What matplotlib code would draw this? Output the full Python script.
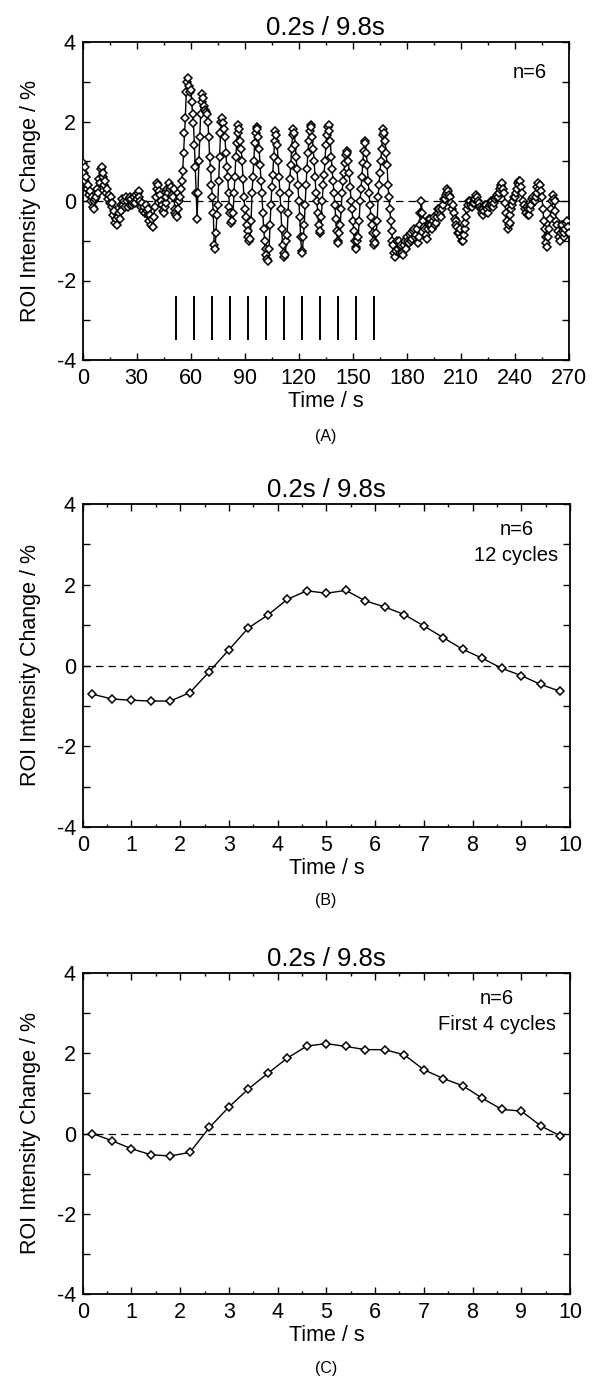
import numpy as np
import matplotlib
matplotlib.use("Agg")
import matplotlib.pyplot as plt
from matplotlib.ticker import MultipleLocator

plt.rcParams['font.family'] = ['Liberation Sans', 'DejaVu Sans']
plt.rcParams['axes.unicode_minus'] = False

# ---------------- Panel A data (time course, %) ----------------
pre_step = 0.5
pre_start = 0.0
pre_values = [
    0.95, 0.7, 0.85, 0.5, 0.6, 0.3, 0.4, 0.15, 0.25, 0.0, 0.1, -0.15, 0.0, -0.2, 0.05, 0.1, 0.3, 0.2, 0.55, 0.45,
    0.8, 0.85, 0.6, 0.7, 0.4, 0.5, 0.2, 0.3, 0.05, 0.15, -0.05, 0.1, -0.15, -0.05, -0.35, -0.25, -0.55, -0.45, -0.6, -0.4,
    -0.3, -0.45, -0.1, -0.25, 0.05, -0.1, 0.0, -0.15, 0.1, 0.0, -0.15, 0.05, -0.1, 0.1, 0.05, -0.1, -0.05, 0.1, -0.05, 0.15,
    0.05, 0.2, 0.25, 0.1, 0.0, -0.15, -0.05, -0.25, -0.15, -0.3, -0.1, -0.25, -0.35, -0.2, -0.5, -0.35, -0.6, -0.45, -0.65, -0.4,
    -0.15, 0.1, 0.3, 0.45, 0.4, 0.25, 0.15, 0.0, -0.1, -0.25, -0.3, -0.15, -0.05, 0.1, 0.3, 0.2, 0.45, 0.3, 0.35, 0.15,
    0.1, 0.3, -0.2, -0.3,
]

stim_step = 0.5
stim_start = 52.0
stim_values = [
    -0.35, -0.4, -0.2, 0.0, 0.1, 0.3, 0.5, 0.75, 1.2, 1.7, 2.1, 2.75, 3.0, 3.1, 2.9, 2.75, 2.8, 2.5, 2.2, 1.95,
    1.4, 0.85, 0.2, -0.45, 0.2, 1.0, 1.6, 2.2, 2.5, 2.7, 2.6, 2.4, 2.3, 2.25, 2.2, 2.0, 1.6, 1.1, 0.8, 0.4,
    0.1, -0.3, -1.1, -1.2, -0.8, -0.35, -0.1, 0.5, 1.1, 1.7, 2.0, 2.1, 1.95, 1.8, 1.6, 1.2, 0.85, 0.6, 0.2, -0.15,
    -0.3, -0.55, -0.5, -0.3, 0.2, 0.6, 1.1, 1.45, 1.7, 1.9, 1.8, 1.5, 1.3, 1.0, 0.55, 0.1, -0.2, -0.4, -0.6, -0.75,
    -0.9, -1.0, -0.95, -0.5, 0.2, 0.6, 1.0, 1.45, 1.7, 1.85, 1.8, 1.6, 1.3, 0.9, 0.5, 0.2, -0.3, -0.7, -1.0, -1.2,
    -1.35, -1.45, -1.5, -1.2, -0.6, -0.1, 0.35, 0.65, 1.1, 1.5, 1.75, 1.65, 1.4, 1.0, 0.6, 0.2, -0.2, -0.7, -1.1, -1.3,
    -1.4, -1.35, -1.0, -0.85, -0.3, 0.2, 0.55, 0.9, 1.3, 1.65, 1.8, 1.7, 1.4, 1.1, 0.8, 0.4, 0.0, -0.4, -0.9, -1.25,
    -1.3, -0.9, -0.6, -0.1, 0.4, 0.8, 1.2, 1.5, 1.75, 1.9, 1.85, 1.6, 1.3, 1.0, 0.6, 0.2, 0.0, -0.3, -0.6, -0.8,
    -0.75, -0.4, 0.0, 0.4, 0.65, 1.0, 1.4, 1.65, 1.85, 1.9, 1.75, 1.5, 1.1, 0.8, 0.5, 0.2, -0.1, -0.45, -0.75, -1.0,
    -1.05, -0.8, -0.6, -0.2, 0.2, 0.5, 0.7, 0.95, 1.15, 1.25, 1.2, 1.0, 0.7, 0.35, 0.0, -0.2, -0.5, -0.75, -1.0, -1.15,
    -1.2, -1.0, -0.9, -0.5, 0.0, 0.3, 0.6, 0.95, 1.25, 1.5, 1.45, 1.2, 0.9, 0.5, 0.2, -0.1, -0.4, -0.6, -0.8, -1.0,
    -1.1, -1.05, -0.8, -0.5, 0.1, 0.4, 0.7, 1.0, 1.3, 1.65, 1.8, 1.7, 1.5, 1.2, 0.9, 0.4, 0.1, -0.2, -0.5, -0.75,
    -1.0, -1.1, -1.3, -1.4, -1.25, -1.0,
]

post_step = 0.5
post_start = 175.0
post_values = [
    -1.2, -1.0, -1.3, -1.15, -1.1, -1.3, -1.35, -1.1, -1.0, -1.2, -0.9, -1.0, -1.05, -0.85, -0.8, -1.0, -0.95, -0.75, -0.7, -0.9,
    -0.85, -0.7, -1.05, -0.9, -0.6, -0.3, 0.0, -0.3, -0.5, -0.65, -0.7, -0.85, -0.95, -0.7, -0.6, -0.45, -0.45, -0.6, -0.7, -0.5,
    -0.4, -0.6, -0.55, -0.4, -0.3, -0.2, -0.2, -0.35, -0.4, -0.2, -0.1, 0.05, 0.05, 0.15, 0.2, 0.3, 0.25, 0.15, 0.1, -0.05,
    -0.2, -0.1, -0.3, -0.45, -0.5, -0.6, -0.65, -0.8, -0.8, -0.7, -0.9, -1.0, -1.0, -0.85, -0.7, -0.55, -0.4, -0.2, -0.1, 0.0,
    0.0, -0.1, -0.15, -0.05, -0.05, 0.05, 0.05, 0.15, 0.1, 0.0, -0.05, -0.15, -0.2, -0.3, -0.35, -0.2, -0.25, -0.1, -0.1, -0.2,
    -0.3, -0.15, -0.1, 0.0, 0.0, -0.1, -0.15, -0.05, 0.05, 0.1, 0.15, 0.1, 0.2, 0.3, 0.4, 0.35, 0.45, 0.3, 0.2, -0.05,
    -0.3, -0.5, -0.7, -0.6, -0.55, -0.35, -0.2, -0.1, 0.0, 0.1, 0.1, 0.2, 0.3, 0.45, 0.5, 0.4, 0.5, 0.35, 0.2, 0.0,
    -0.1, -0.2, -0.3, -0.15, -0.2, -0.35, -0.35, -0.2, -0.1, 0.05, 0.1, 0.0, 0.0, 0.1, 0.2, 0.35, 0.45, 0.3, 0.4, 0.25,
    0.1, -0.2, -0.5, -0.7, -0.9, -1.05, -1.15, -0.9, -0.7, -0.45, -0.2, 0.0, 0.15, 0.05, 0.0, -0.25, -0.5, -0.6, -0.75, -0.9,
    -1.0, -0.8, -0.6, -0.75, -0.9, -0.8, -0.7, -0.55, -0.5, -0.65, -0.8,
]

stim_onsets = [52, 62, 72, 82, 92, 102, 112, 122, 132, 142, 152, 162]
stim_bar_low, stim_bar_high = -3.5, -2.4

# ---------------- Panel B / C data (cycle average) ----------------
cycle_time = [0.2, 0.6, 1.0, 1.4, 1.8, 2.2, 2.6, 3.0, 3.4, 3.8, 4.2, 4.6, 5.0,
              5.4, 5.8, 6.2, 6.6, 7.0, 7.4, 7.8, 8.2, 8.6, 9.0, 9.4, 9.8]
avg_12_cycles = [-0.71, -0.83, -0.86, -0.88, -0.88, -0.67, -0.15, 0.39, 0.93, 1.25,
                 1.64, 1.85, 1.79, 1.86, 1.60, 1.45, 1.26, 0.98, 0.69, 0.40,
                 0.18, -0.07, -0.25, -0.47, -0.64]
avg_first4 = [0.0, -0.18, -0.38, -0.53, -0.56, -0.47, 0.15, 0.66, 1.11, 1.50,
              1.88, 2.18, 2.24, 2.17, 2.09, 2.09, 1.96, 1.59, 1.37, 1.19,
              0.88, 0.60, 0.56, 0.19, -0.06]

title_text = "0.2s / 9.8s"
ylabel_text = "ROI Intensity Change / %"
xlabel_text = "Time / s"

# ---------------- Figure ----------------
W, H = 603, 1381
fig = plt.figure(figsize=(W / 100, H / 100), dpi=100)


def rect(left_px, right_px, top_px, bottom_px):
    return [left_px / W, 1 - bottom_px / H, (right_px - left_px) / W, (bottom_px - top_px) / H]


FS = 15.5
mk = dict(marker='D', markersize=3.8, markerfacecolor='white',
          markeredgecolor='black', markeredgewidth=1.1, color='black', linewidth=1.0)


def style_axis(ax, xmaj, xmin, xmax):
    ax.set_xlim(0, xmax)
    ax.set_ylim(-4, 4)
    ax.xaxis.set_major_locator(MultipleLocator(xmaj))
    ax.xaxis.set_minor_locator(MultipleLocator(xmin))
    ax.yaxis.set_major_locator(MultipleLocator(2))
    ax.yaxis.set_minor_locator(MultipleLocator(1))
    ax.tick_params(which='both', direction='in', top=True, right=True, width=1.0)
    ax.tick_params(axis='x', which='major', length=5, pad=6, labelsize=FS)
    ax.tick_params(axis='x', which='minor', length=2.5)
    ax.tick_params(axis='y', which='major', length=5, pad=5, labelsize=FS)
    ax.tick_params(axis='y', which='minor', length=5)
    for s in ax.spines.values():
        s.set_linewidth(1.3)
    ax.axhline(0, color='black', linewidth=0.9, linestyle=(0, (6, 4)), zorder=1)
    ax.set_title(title_text, fontsize=18.5, pad=5)
    ax.set_xlabel(xlabel_text, fontsize=FS, labelpad=1)
    ax.set_ylabel(ylabel_text, fontsize=FS, labelpad=11)


# Panel A
axA = fig.add_axes(rect(82.7, 569, 42, 360))
style_axis(axA, 30, 15, 270)
tA = np.concatenate([pre_start + pre_step * np.arange(len(pre_values)),
                     stim_start + stim_step * np.arange(len(stim_values)),
                     post_start + post_step * np.arange(len(post_values))])
vA = np.concatenate([pre_values, stim_values, post_values])
axA.plot(tA, vA, zorder=3, **mk)
axA.vlines(stim_onsets, stim_bar_low, stim_bar_high, color='black', linewidth=1.4)
axA.text(0.955, 0.905, "n=6", transform=axA.transAxes, ha='right', va='center', fontsize=14.5)

# Panel B
axB = fig.add_axes(rect(82.7, 570, 504, 827))
style_axis(axB, 1, 0.5, 10)
axB.plot(cycle_time, avg_12_cycles, zorder=3, **mk)
axB.text(0.89, 0.95, "n=6\n12 cycles", transform=axB.transAxes, ha='center', va='top',
         fontsize=14.5, linespacing=1.45)

# Panel C
axC = fig.add_axes(rect(82.7, 570, 973, 1294))
style_axis(axC, 1, 0.5, 10)
axC.plot(cycle_time, avg_first4, zorder=3, **mk)
axC.text(0.85, 0.95, "n=6\nFirst 4 cycles", transform=axC.transAxes, ha='center', va='top',
         fontsize=14.5, linespacing=1.45)

for lab, ypx in [("(A)", 437), ("(B)", 901), ("(C)", 1368)]:
    fig.text(326 / W, 1 - ypx / H, lab, ha='center', va='center', fontsize=11.5)

fig.savefig("out.png", dpi=100)
